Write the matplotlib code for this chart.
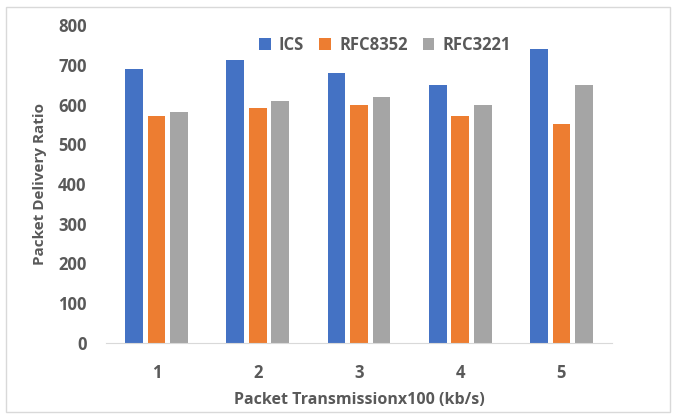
import numpy as np
import matplotlib.pyplot as plt
from matplotlib.patches import Rectangle

# data
categories = ['1', '2', '3', '4', '5']
ics = [690, 713, 680, 650, 740]
rfc8352 = [570, 592, 600, 570, 552]
rfc3221 = [580, 610, 620, 600, 650]

series = [('ICS', ics, '#4472C4'),
          ('RFC8352', rfc8352, '#ED7D31'),
          ('RFC3221', rfc3221, '#A5A5A5')]

plt.rcParams['font.family'] = ['Open Sans', 'DejaVu Sans']
txt = '#595959'

fig = plt.figure(figsize=(6.73, 4.16), dpi=100)
ax = fig.add_axes([106 / 673, 1 - 343 / 416, (612 - 106) / 673, (343 - 25) / 416])

# chart area border
fig.patches.append(Rectangle((6 / 673, 1 - 412 / 416), 664 / 673, 405 / 416,
                             transform=fig.transFigure, fill=False,
                             edgecolor='#d9d9d9', linewidth=1))

x = np.arange(len(categories))
step = 0.222
for i, (name, vals, col) in enumerate(series):
    ax.bar(x + (i - 1) * step, vals, width=0.175, color=col, label=name)

ax.set_xlim(-0.5, len(categories) - 0.5)
ax.set_ylim(0, 800)
ax.set_yticks(range(0, 801, 100))
ax.set_xticks(x)
ax.set_xticklabels(categories)

for s in ['top', 'right', 'left']:
    ax.spines[s].set_visible(False)
ax.spines['bottom'].set_color('#d9d9d9')
ax.tick_params(length=0, labelsize=12, labelcolor=txt)
ax.tick_params(axis='x', pad=15)
ax.tick_params(axis='y', pad=14)
for lab in ax.get_xticklabels() + ax.get_yticklabels():
    lab.set_fontweight('bold')

ax.set_xlabel('Packet Transmissionx100 (kb/s)', fontsize=11.5, fontweight='bold',
              color=txt, labelpad=7)
ax.set_ylabel('Packet Delivery Ratio', fontsize=11, fontweight='bold',
              color=txt, labelpad=8)

fig.legend(loc='center', bbox_to_anchor=(385 / 673, 1 - 45 / 416), ncol=3,
           frameon=False, handlelength=0.7, handleheight=0.7, columnspacing=0.9,
           handletextpad=0.5, prop={'size': 12, 'weight': 'bold'},
           labelcolor=txt)

fig.savefig('out.png', dpi=100)
